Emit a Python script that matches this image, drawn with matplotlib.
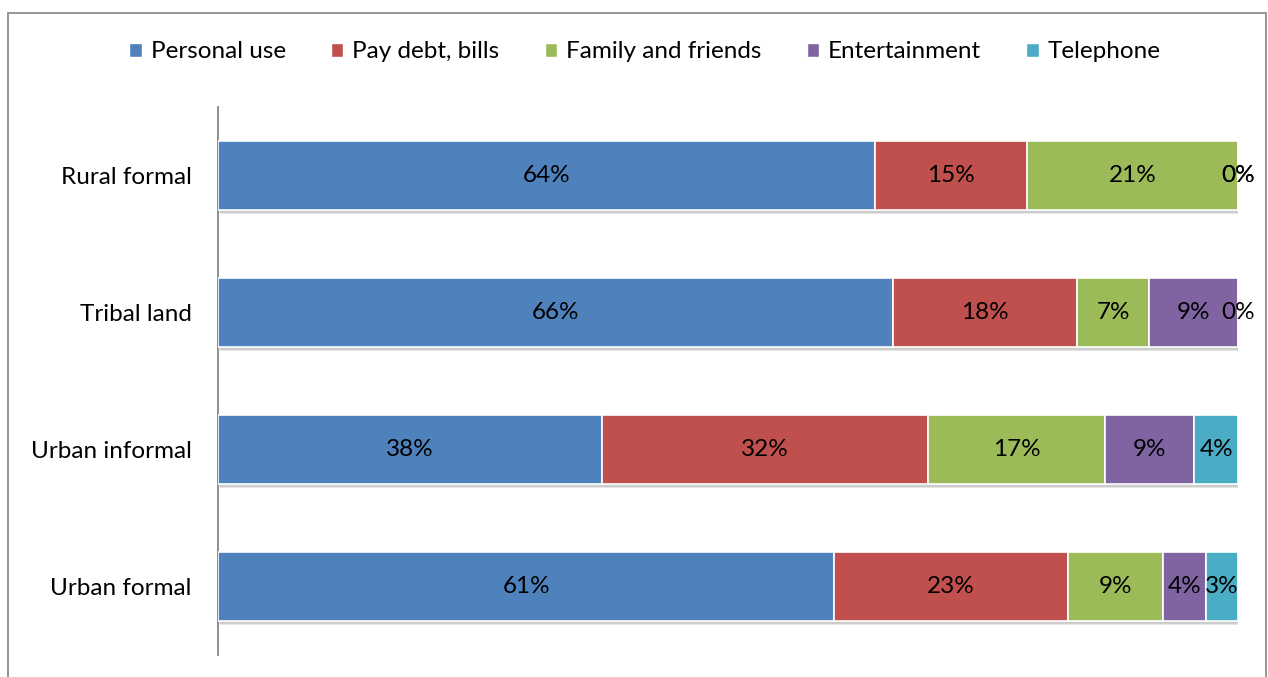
import matplotlib
matplotlib.use("Agg")
import matplotlib.pyplot as plt
import matplotlib.patches as mpatches
import matplotlib.patheffects as pe
import numpy as np

plt.rcParams['font.family'] = ['Lato', 'DejaVu Sans']

categories = ["Rural formal", "Tribal land", "Urban informal", "Urban formal"]
series_names = ["Personal use", "Pay debt, bills", "Family and friends", "Entertainment", "Telephone"]
personal_use = [64.4, 66.2, 37.6, 60.6]
pay_debt = [14.9, 18.0, 32.0, 23.0]
family_friends = [20.7, 7.1, 17.4, 9.3]
entertainment = [0.0, 8.7, 8.7, 4.3]
telephone = [0.0, 0.0, 4.3, 3.1]
colors = ["#4F81BD", "#C0504D", "#9BBB59", "#8064A2", "#4BACC6"]

FS = 17.5
W, H = 1268, 677
fig = plt.figure(figsize=(W / 100, H / 100), dpi=100)
ax = fig.add_axes([218 / W, 1 - 655 / H, (1238 - 218) / W, (655 - 107) / H])

data = np.array([personal_use, pay_debt, family_friends, entertainment, telephone])
totals = data.sum(axis=0)
shares = data / totals
y = np.arange(len(categories))
left = np.zeros(len(categories))
handles = []
for i, name in enumerate(series_names):
    bars = ax.barh(y, shares[i], left=left, height=0.51, color=colors[i],
                   edgecolor="white", linewidth=1.2, label=name, zorder=3)
    for b in bars:
        b.set_path_effects([pe.SimplePatchShadow(offset=(1.5, -2.5), shadow_rgbFace="#000000", alpha=0.10),
                            pe.SimplePatchShadow(offset=(1.0, -1.5), shadow_rgbFace="#000000", alpha=0.10),
                            pe.Normal()])
    for j in range(len(categories)):
        ax.text(left[j] + shares[i][j] / 2, y[j], f"{data[i][j]:.0f}%",
                ha="center", va="center", fontsize=FS, color="black", zorder=5)
    handles.append(mpatches.Patch(facecolor=colors[i], edgecolor="white", label=name))
    left = left + shares[i]

ax.set_xlim(0, 1)
ax.set_ylim(3.5, -0.5)
ax.set_yticks(y)
ax.set_yticklabels(categories, fontsize=FS)
ax.tick_params(axis="y", length=0, pad=19)
ax.set_xticks([])
for s in ["top", "right", "bottom"]:
    ax.spines[s].set_visible(False)
ax.spines["left"].set_color("#868686")
ax.spines["left"].set_linewidth(1.3)

fig.legend(handles=handles, loc="center", bbox_to_anchor=(645 / W, 1 - 52 / H), ncol=5,
           frameon=False, fontsize=FS, handlelength=0.52, handleheight=0.52,
           handletextpad=0.37, columnspacing=1.85)

border = mpatches.Rectangle((8 / W, -0.1), (1266 - 8) / W, 1 - 13 / H + 0.1,
                            transform=fig.transFigure, fill=False, edgecolor="#8C8C8C", linewidth=1.3)
fig.patches.append(border)

fig.savefig("out.png", dpi=100)
